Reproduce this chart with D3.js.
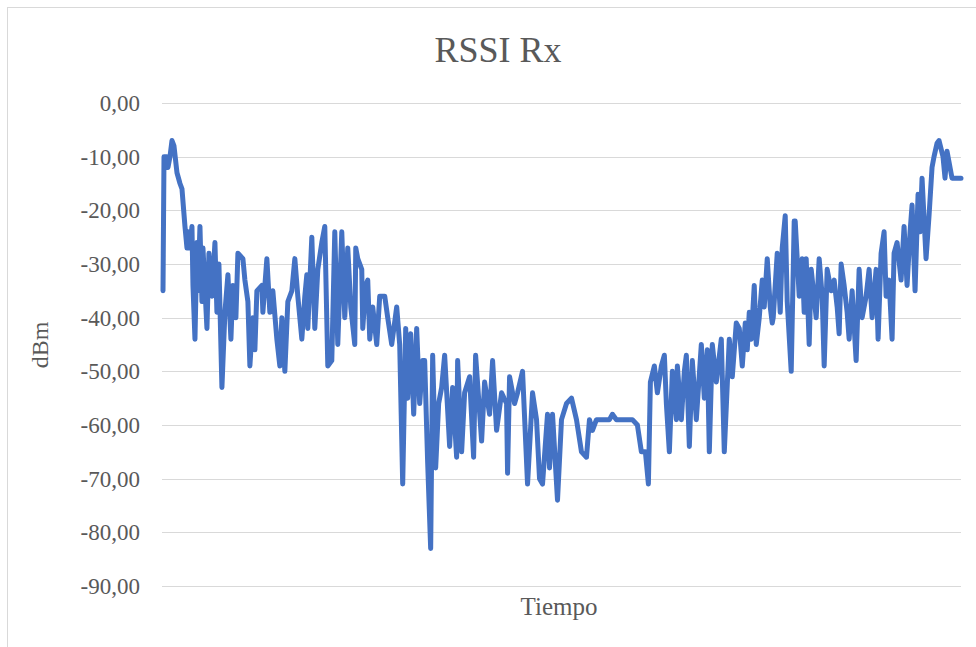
<!DOCTYPE html>
<meta charset="utf-8">
<style>
body { margin: 0; background: #fff; }
text { font-family: "Liberation Serif", "Times New Roman", serif; fill: #595959; }
.grid line { stroke: #d9d9d9; stroke-width: 1; shape-rendering: crispEdges; }
.grid path { display: none; }
</style>
<body>
<script src="https://cdn.jsdelivr.net/npm/d3@7/dist/d3.min.js"></script>
<script>

// muestra (tiempo) y RSSI
var tiempo = [0, 1, 4, 5, 7, 9, 11, 14, 17, 19, 22, 24, 25, 27, 29, 30, 32, 34, 35, 37,
  39, 40, 44, 46, 49, 52, 54, 56, 59, 62, 65, 68, 70, 73, 75, 80, 82, 85, 87, 90,
  92, 94, 99, 100, 104, 107, 110, 114, 117, 119, 122, 125, 129, 132, 135, 139, 142, 144, 145, 149,
  152, 155, 159, 162, 165, 169, 172, 175, 179, 182, 185, 188, 192, 193, 195, 199, 200, 203, 205, 207,
  210, 214, 217, 222, 225, 229, 234, 237, 240, 243, 245, 248, 251, 254, 257, 260, 262, 265, 268, 270,
  273, 276, 279, 282, 287, 290, 294, 295, 299, 302, 307, 311, 313, 319, 322, 327, 330, 334, 339, 344,
  345, 347, 352, 355, 360, 365, 370, 374, 377, 380, 385, 387, 390, 395, 399, 404, 409, 414, 419, 424,
  427, 430, 434, 447, 450, 454, 470, 475, 479, 483, 486, 488, 492, 495, 499, 502, 504, 507, 510, 514,
  515, 519, 522, 524, 527, 530, 534, 539, 542, 545, 547, 550, 554, 559, 562, 567, 570, 574, 577, 580,
  583, 585, 587, 589, 592, 594, 597, 600, 602, 605, 608, 610, 611, 615, 618, 620, 623, 625, 629, 632,
  633, 637, 640, 642, 644, 647, 649, 654, 657, 660, 662, 665, 669, 672, 675, 677, 679, 682, 685, 687,
  690, 694, 697, 700, 704, 707, 710, 714, 716, 719, 722, 724, 727, 730, 732, 735, 739, 742, 745, 748,
  750, 753, 756, 758, 760, 764, 767, 770, 772, 775, 777, 781, 783, 785, 790, 799];

var rssi = [-35, -10, -10, -12, -10, -7, -8, -13, -15, -16, -23, -27, -24, -27, -23, -34, -44, -26, -35, -23,
  -37, -27, -42, -28, -36, -26, -39, -30, -53, -39, -32, -44, -34, -40, -28, -29, -33, -37, -49, -40,
  -46, -35, -34, -39, -29, -39, -35, -44, -49, -40, -50, -37, -35, -29, -36, -44, -36, -32, -42, -25,
  -42, -31, -26, -23, -49, -48, -24, -45, -24, -40, -27, -38, -45, -27, -29, -31, -42, -34, -33, -44,
  -38, -45, -36, -36, -40, -45, -38, -45, -71, -42, -55, -43, -58, -42, -56, -48, -48, -67, -83, -47,
  -68, -56, -53, -47, -64, -53, -66, -48, -65, -54, -51, -66, -47, -63, -52, -58, -48, -61, -54, -56,
  -69, -51, -56, -54, -50, -71, -54, -59, -70, -71, -58, -68, -58, -74, -59, -56, -55, -59, -65, -66,
  -59, -61, -59, -59, -58, -59, -59, -60, -65, -65, -71, -52, -49, -54, -49, -47, -56, -65, -50, -59,
  -49, -59, -50, -47, -64, -48, -59, -45, -55, -46, -65, -45, -52, -44, -65, -44, -51, -41, -42, -49,
  -41, -46, -39, -44, -34, -45, -40, -33, -38, -29, -38, -41, -40, -28, -39, -27, -21, -37, -50, -22,
  -22, -36, -29, -39, -29, -45, -31, -40, -29, -36, -49, -31, -35, -33, -38, -43, -30, -34, -39, -44,
  -35, -48, -31, -40, -36, -31, -40, -31, -44, -28, -24, -36, -33, -44, -28, -26, -33, -23, -34, -24,
  -19, -35, -17, -24, -14, -29, -21, -12, -10, -7.5, -7, -10, -14, -9, -14, -14];

var yTicks = [0, -10, -20, -30, -40, -50, -60, -70, -80, -90];

var width = 976, height = 647;

var svg = d3.select("body").append("svg")
    .attr("width", width)
    .attr("height", height);

// marco del grafico
svg.append("rect")
    .attr("x", 7.5).attr("y", 7.5)
    .attr("width", 980).attr("height", 660)
    .attr("fill", "none")
    .attr("stroke", "#d9d9d9");

var x = d3.scaleLinear()
    .domain([0, 799])
    .range([163, 961]);

var y = d3.scaleLinear()
    .domain([-90, 0])
    .range([586, 103]);

// formato con coma decimal y guion simple
var fmt = function(d) { return d3.format(".2f")(d).replace(".", ",").replace("\u2212", "-"); };

var yAxis = d3.axisLeft(y)
    .tickValues(yTicks)
    .tickSize(-(961 - 162))
    .tickPadding(22)
    .tickFormat(fmt);

var g = svg.append("g")
    .attr("class", "grid")
    .attr("transform", "translate(162,0)")
    .call(yAxis);

g.selectAll("text")
    .style("font-size", "23px")
    .attr("fill", "#595959");

var line = d3.line()
    .x(function(d, i) { return x(tiempo[i]); })
    .y(function(d) { return y(d); });

svg.append("path")
    .datum(rssi)
    .attr("fill", "none")
    .attr("stroke", "#4472c4")
    .attr("stroke-width", 5)
    .attr("stroke-linejoin", "round")
    .attr("stroke-linecap", "round")
    .attr("d", line);

svg.append("text")
    .attr("x", 498).attr("y", 62)
    .attr("text-anchor", "middle")
    .style("font-size", "36px")
    .text("RSSI Rx");

svg.append("text")
    .attr("x", 559).attr("y", 615)
    .attr("text-anchor", "middle")
    .style("font-size", "25px")
    .text("Tiempo");

svg.append("text")
    .attr("transform", "translate(48,345) rotate(-90)")
    .attr("text-anchor", "middle")
    .style("font-size", "24px")
    .text("dBm");

</script>
